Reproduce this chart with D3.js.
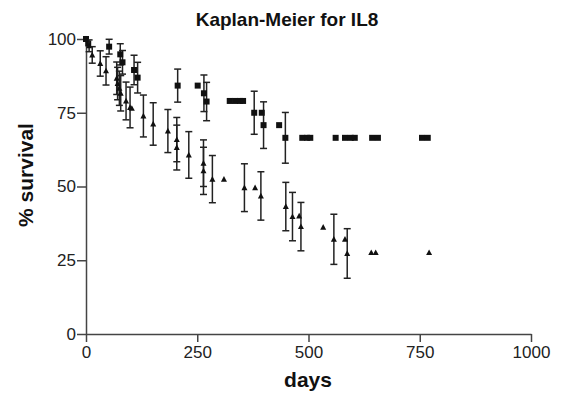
<!DOCTYPE html>
<html>
<script src='https://cdn.jsdelivr.net/npm/d3@7'></script>
<style>
 body {margin: 0; background: white;}
 text {font-family: Arial, 'Liberation Sans', sans-serif; fill: #111;}
 .axis path, .axis line {stroke: #444; stroke-width: 1.5;}
 .axis text {font-size: 17px; fill: #222;}
</style>
<body onload='init()'>
<svg width=561 height=398></svg>
<script>
// group 1 (squares): day, % survival, error (0 = censored, no bar)
var sqDays = [0,5,52,77,82,108,116,206,251,265,271,323,335,346,353,378,395,399,434,448,486,497,504,561,582,595,604,643,656,755,768];
var sqSurv = [100,98.5,97.4,94.8,92.1,89.5,86.9,84.2,84.2,81.6,78.8,79,79,79,79,75,75,70.8,70.8,66.5,66.5,66.5,66.5,66.5,66.5,66.5,66.5,66.5,66.5,66.5,66.5];
var sqErr  = [0,0,2.5,3.6,4,5,5.2,5.6,0,6.2,6.5,0,0,0,0,7.3,0,7.9,0,8.6,0,0,0,0,0,0,0,0,0,0,0];
// group 2 (triangles)
var trDays = [0,7,14,32,45,69,71,75,78,90,99,103,129,151,184,204,204,231,264,264,284,310,356,380,393,449,464,479,483,533,557,582,587,641,651,771];
var trSurv = [100,97.7,94.6,91.7,89.2,86.7,84.9,83.3,81.6,79,76.8,76.5,73.9,71.2,68.8,65.9,63.2,60.7,57.9,55.3,52.5,52.5,49.6,49.6,46.8,43.2,39.8,40,36.4,36.2,32.1,32.1,27.3,27.6,27.6,27.6];
var trErr  = [0,2,2.8,4.3,4.8,5.5,5.5,5.8,6,6.4,6.9,0,7.1,7.2,7.3,7.5,7.6,7.9,7.9,8,8,0,8.1,0,8.2,8.2,8.2,0,8.2,0,8.5,0,8.4,0,0,0];
var xTicks = [0,250,500,750,1000];
var yTicks = [0,25,50,75,100];

function init() {
 var svg = d3.select("svg");
 var x = d3.scaleLinear().domain([0, 1000]).range([86, 531]);
 var y = d3.scaleLinear().domain([0, 100]).range([334, 39]);

 svg.append("g").attr("class", "axis")
  .attr("transform", "translate(0,334)")
  .call(d3.axisBottom(x).tickValues(xTicks).tickFormat(d3.format("d")).tickSize(8).tickPadding(4).tickSizeOuter(0));
 svg.append("g").attr("class", "axis")
  .attr("transform", "translate(86,0)")
  .call(d3.axisLeft(y).tickValues(yTicks).tickSize(9).tickPadding(1).tickSizeOuter(0));

 function series(days, surv, err, shape) {
  var pts = days.map(function (d, i) { return {d: d, s: surv[i], e: err[i]}; });
  var eb = svg.append("g").attr("stroke", "#222").attr("stroke-width", 1.5)
   .selectAll("g").data(pts.filter(function (p) { return p.e > 0; })).enter().append("g");
  eb.append("line")
   .attr("x1", function (p) { return x(p.d); }).attr("x2", function (p) { return x(p.d); })
   .attr("y1", function (p) { return y(p.s + p.e); }).attr("y2", function (p) { return y(p.s - p.e); });
  [1, -1].forEach(function (k) {
   eb.append("line")
    .attr("x1", function (p) { return x(p.d) - 3.5; }).attr("x2", function (p) { return x(p.d) + 3.5; })
    .attr("y1", function (p) { return y(p.s + k * p.e); }).attr("y2", function (p) { return y(p.s + k * p.e); });
  });
  svg.append("g").selectAll("path").data(pts).enter().append("path")
   .attr("transform", function (p) { return "translate(" + x(p.d) + "," + y(p.s) + ")"; })
   .attr("d", shape)
   .attr("fill", "#111");
 }
 series(sqDays, sqSurv, sqErr, "M-3,-3H3V3H-3Z");
 series(trDays, trSurv, trErr, "M0,-3.2L3,2.5H-3Z");

 svg.append("text").attr("x", 287).attr("y", 26).attr("text-anchor", "middle")
  .style("font-size", "19px").style("font-weight", "bold").text("Kaplan-Meier for IL8");
 svg.append("text").attr("x", 308).attr("y", 387).attr("text-anchor", "middle")
  .style("font-size", "21px").style("font-weight", "bold").text("days");
 svg.append("text").attr("transform", "translate(33,175) rotate(-90)").attr("text-anchor", "middle")
  .style("font-size", "21px").style("font-weight", "bold").text("% survival");
}
</script>
</body>
</html>
